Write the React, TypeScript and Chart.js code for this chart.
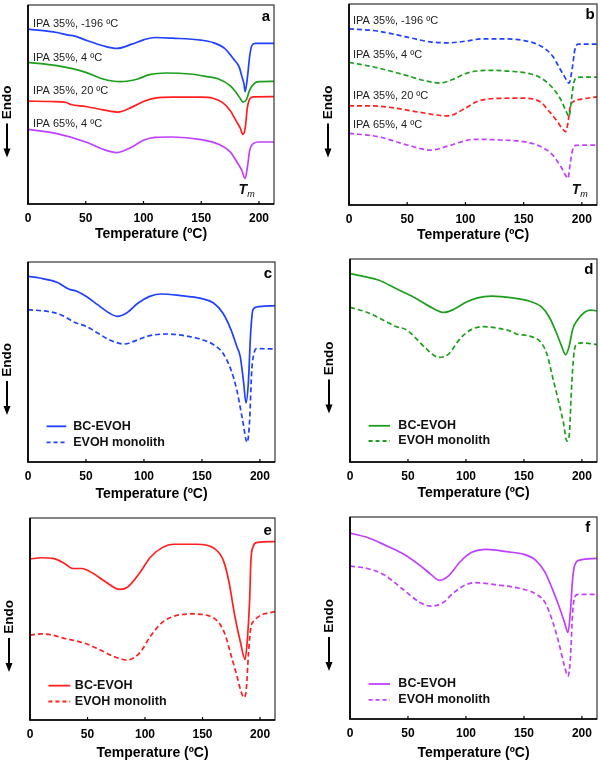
import React, { useEffect, useRef } from "react";
import { Chart, registerables } from "chart.js";
Chart.register(...registerables);

const FONT = "'Liberation Sans', Arial, sans-serif";
const BLUE = "#2140ff";
const GREEN = "#1c9f1c";
const RED = "#ff1f1f";
const MAGENTA = "#c040ff";

const xTickValues = [0, 50, 100, 150, 200];
const X_MAX = 213;
const Y_MAX = 600;
const X_TITLE = "Temperature (ºC)";
const Y_TITLE = "Endo";

// ---- Panel a (solid) ----
const aBlueT = [0, 25, 35, 40, 50, 65, 77, 90, 100, 110, 125, 150, 160, 170, 178, 183, 185, 187, 188, 190, 192, 194, 197, 213];
const aBlueH = [527, 517, 509, 507, 494, 477, 469, 482, 495, 502, 500, 494, 487, 470, 437, 412, 387, 362, 339, 382, 447, 479, 484, 484];
const aGreenT = [0, 25, 50, 65, 80, 95, 105, 120, 140, 155, 165, 175, 180, 184, 186, 189, 192, 196, 200, 213];
const aGreenH = [427, 417, 397, 377, 369, 377, 390, 395, 392, 384, 377, 357, 337, 317, 307, 314, 344, 364, 369, 370];
const aRedT = [0, 20, 33, 37, 50, 65, 78, 90, 100, 110, 125, 150, 160, 168, 175, 180, 184, 186, 188, 190, 192, 195, 213];
const aRedH = [310, 309, 306, 300, 294, 284, 277, 292, 309, 319, 322, 322, 319, 307, 282, 252, 227, 210, 227, 292, 317, 323, 324];
const aMagT = [0, 25, 50, 65, 77, 90, 100, 110, 125, 150, 165, 175, 180, 185, 188, 190, 192, 195, 200, 213];
const aMagH = [225, 212, 187, 165, 155, 172, 192, 201, 202, 194, 180, 157, 132, 102, 77, 112, 162, 182, 187, 187];

// ---- Panel b (dashed) ----
const bBlueT = [0, 25, 50, 70, 85, 100, 115, 130, 150, 165, 175, 180, 185, 189, 192, 194, 197, 213];
const bBlueH = [526, 519, 501, 487, 484, 489, 496, 496, 491, 474, 444, 414, 384, 364, 414, 464, 480, 480];
const bGreenT = [0, 25, 50, 65, 78, 90, 100, 110, 120, 140, 155, 165, 175, 182, 186, 189, 191, 193, 196, 213];
const bGreenH = [426, 409, 386, 371, 364, 376, 392, 400, 402, 399, 392, 379, 349, 314, 284, 264, 314, 364, 381, 382];
const bRedT = [0, 20, 40, 60, 85, 100, 110, 125, 150, 165, 172, 178, 183, 186, 188, 190, 193, 200, 213];
const bRedH = [296, 296, 289, 277, 266, 289, 309, 318, 319, 306, 279, 254, 229, 219, 244, 294, 309, 316, 323];
const bMagT = [0, 25, 50, 70, 85, 100, 110, 130, 150, 165, 175, 182, 186, 188, 190, 192, 195, 213];
const bMagH = [214, 204, 179, 164, 176, 192, 196, 194, 189, 174, 149, 114, 89, 79, 124, 164, 178, 179];

const seriesLabels = ["IPA 35%, -196 ºC", "IPA 35%, 4 ºC", "IPA 35%, 20 ºC", "IPA 65%, 4 ºC"];
const compareLabels = ["BC-EVOH", "EVOH monolith"];

// ---- Panel c (blue) ----
const cSolidT = [0, 10, 25, 35, 42, 50, 60, 70, 77, 85, 95, 105, 115, 130, 150, 160, 168, 175, 180, 183, 186, 188, 190, 192, 194, 197, 213];
const cSolidH = [557, 552, 539, 519, 512, 497, 472, 447, 437, 447, 477, 497, 504, 500, 490, 477, 447, 397, 347, 317, 237, 177, 237, 387, 457, 465, 469];
const cDashT = [0, 20, 30, 40, 50, 60, 70, 83, 95, 105, 120, 135, 150, 160, 168, 175, 180, 185, 189, 191, 193, 195, 197, 213];
const cDashH = [457, 450, 439, 419, 407, 387, 367, 354, 367, 379, 384, 379, 367, 352, 327, 277, 217, 127, 59, 117, 277, 327, 340, 339];

// ---- Panel d (green) ----
const dSolidT = [0, 10, 25, 40, 55, 70, 81, 90, 100, 110, 122, 140, 155, 165, 172, 178, 182, 186, 189, 192, 196, 202, 207, 213];
const dSolidH = [557, 550, 537, 512, 487, 457, 442, 452, 472, 485, 490, 485, 475, 459, 427, 382, 347, 317, 342, 392, 419, 442, 449, 447];
const dDashT = [0, 15, 30, 40, 48, 55, 65, 77, 85, 95, 105, 115, 130, 140, 143, 155, 165, 170, 175, 180, 184, 187, 189, 191, 193, 195, 200, 213];
const dDashH = [457, 442, 417, 400, 392, 372, 337, 309, 319, 365, 392, 400, 394, 385, 379, 372, 352, 317, 247, 177, 117, 62, 77, 217, 317, 347, 352, 347];

// ---- Panel e (red) ----
const eSolidT = [0, 10, 20, 30, 37, 45, 55, 65, 78, 85, 95, 105, 115, 125, 145, 160, 168, 173, 178, 183, 187, 189, 191, 192, 194, 197, 213];
const eSolidH = [478, 482, 480, 465, 450, 450, 435, 412, 388, 395, 435, 485, 512, 522, 522, 510, 475, 410, 310, 230, 180, 240, 360, 470, 515, 527, 530];
const eDashT = [0, 10, 20, 30, 40, 50, 60, 72, 84, 95, 105, 115, 125, 140, 155, 165, 170, 175, 180, 183, 186, 188, 190, 192, 195, 200, 213];
const eDashH = [252, 256, 252, 242, 235, 225, 210, 190, 178, 198, 250, 290, 308, 315, 310, 285, 250, 190, 130, 90, 67, 90, 200, 275, 295, 310, 322];

// ---- Panel f (magenta) ----
const fSolidT = [0, 15, 30, 45, 60, 70, 77, 85, 95, 105, 118, 135, 150, 160, 168, 175, 180, 185, 188, 190, 192, 194, 198, 213];
const fSolidH = [552, 539, 517, 492, 457, 429, 412, 425, 467, 495, 504, 497, 489, 472, 437, 382, 337, 287, 257, 317, 417, 459, 472, 477];
const fDashT = [0, 15, 30, 45, 60, 70, 80, 90, 100, 108, 125, 145, 160, 168, 175, 180, 185, 188, 190, 192, 194, 197, 213];
const fDashH = [454, 447, 427, 387, 347, 335, 345, 377, 399, 405, 399, 389, 372, 347, 287, 227, 157, 127, 177, 317, 364, 370, 370];

type Series = { t: number[]; h: number[]; color: string; dashed: boolean };
type Spec = {
  key: string;
  left: number; top: number; width: number; height: number;
  padL: number; padR: number; padT: number; xh: number;
  titleOffset: number;
  letter: string; letterAt: [number, number];
  series: Series[];
  labels?: { text: string; at: [number, number] }[];
  tm?: [number, number];
  legend?: { x0: number; x1: number; xt: number; y1: number; y2: number; color: string };
};

const pts = (t: number[], h: number[]) => t.map((x, i) => ({ x, y: h[i] }));

const specs: Spec[] = [
  {
    key: "a", left: 0, top: 0, width: 300, height: 250, padL: 28, padR: 26, padT: 5, xh: 46, titleOffset: 30,
    letter: "a", letterAt: [206, 565],
    series: [
      { t: aBlueT, h: aBlueH, color: BLUE, dashed: false },
      { t: aGreenT, h: aGreenH, color: GREEN, dashed: false },
      { t: aRedT, h: aRedH, color: RED, dashed: false },
      { t: aMagT, h: aMagH, color: MAGENTA, dashed: false },
    ],
    labels: [
      { text: seriesLabels[0], at: [4.3, 544] },
      { text: seriesLabels[1], at: [4.3, 440] },
      { text: seriesLabels[2], at: [4.3, 342] },
      { text: seriesLabels[3], at: [4.3, 242] },
    ],
    tm: [188, 42],
  },
  {
    key: "b", left: 300, top: 0, width: 300, height: 250, padL: 49, padR: 3, padT: 4, xh: 45, titleOffset: 30,
    letter: "b", letterAt: [207, 569],
    series: [
      { t: bBlueT, h: bBlueH, color: BLUE, dashed: true },
      { t: bGreenT, h: bGreenH, color: GREEN, dashed: true },
      { t: bRedT, h: bRedH, color: RED, dashed: true },
      { t: bMagT, h: bMagH, color: MAGENTA, dashed: true },
    ],
    labels: [
      { text: seriesLabels[0], at: [3.4, 549] },
      { text: seriesLabels[1], at: [3.4, 449] },
      { text: seriesLabels[2], at: [3.4, 324] },
      { text: seriesLabels[3], at: [3.4, 239] },
    ],
    tm: [197, 44],
  },
  {
    key: "c", left: 0, top: 250, width: 300, height: 255, padL: 28, padR: 25, padT: 12, xh: 43, titleOffset: 32,
    letter: "c", letterAt: [207, 565],
    series: [
      { t: cSolidT, h: cSolidH, color: BLUE, dashed: false },
      { t: cDashT, h: cDashH, color: BLUE, dashed: true },
    ],
    legend: { x0: 16, x1: 33, xt: 39, y1: 107, y2: 59, color: BLUE },
  },
  {
    key: "d", left: 300, top: 250, width: 300, height: 255, padL: 50, padR: 3, padT: 9, xh: 43, titleOffset: 31,
    letter: "d", letterAt: [206, 569],
    series: [
      { t: dSolidT, h: dSolidH, color: GREEN, dashed: false },
      { t: dDashT, h: dDashH, color: GREEN, dashed: true },
    ],
    legend: { x0: 16, x1: 34.5, xt: 41.7, y1: 107, y2: 62, color: GREEN },
  },
  {
    key: "e", left: 0, top: 505, width: 300, height: 257, padL: 30, padR: 25, padT: 13, xh: 42, titleOffset: 33,
    letter: "e", letterAt: [206.7, 563],
    series: [
      { t: eSolidT, h: eSolidH, color: RED, dashed: false },
      { t: eDashT, h: eDashH, color: RED, dashed: true },
    ],
    legend: { x0: 16, x1: 35, xt: 39, y1: 102, y2: 55, color: RED },
  },
  {
    key: "f", left: 300, top: 505, width: 300, height: 257, padL: 50, padR: 3, padT: 12, xh: 43, titleOffset: 34,
    letter: "f", letterAt: [205, 567],
    series: [
      { t: fSolidT, h: fSolidH, color: MAGENTA, dashed: false },
      { t: fDashT, h: fDashH, color: MAGENTA, dashed: true },
    ],
    legend: { x0: 16, x1: 34.5, xt: 41.7, y1: 104, y2: 57, color: MAGENTA },
  },
];

function makeOverlay(spec: Spec) {
  return {
    id: "overlay" + spec.key,
    afterDraw(chart: any) {
      const { ctx, chartArea: ca, scales } = chart;
      const xs = scales.x;
      const ys = scales.y;
      const px = (v: number) => xs.getPixelForValue(v);
      const py = (v: number) => ys.getPixelForValue(v);
      ctx.save();
      // frame
      ctx.strokeStyle = "#333";
      ctx.lineWidth = 1.2;
      ctx.strokeRect(ca.left, ca.top, ca.right - ca.left, ca.bottom - ca.top);
      ctx.strokeStyle = "#000";
      ctx.lineWidth = 1.7;
      ctx.beginPath();
      ctx.moveTo(ca.left, ca.top);
      ctx.lineTo(ca.left, ca.bottom);
      ctx.lineTo(ca.right, ca.bottom);
      ctx.stroke();
      // inward ticks
      ctx.lineWidth = 1.2;
      for (const v of xTickValues) {
        const x = px(v);
        ctx.beginPath();
        ctx.moveTo(x, ca.bottom);
        ctx.lineTo(x, ca.bottom - 3);
        ctx.stroke();
      }
      // Endo + arrow
      const mid = (ca.top + ca.bottom) / 2;
      const ex = ca.left - 21;
      ctx.save();
      ctx.translate(ex, mid - 2);
      ctx.rotate(-Math.PI / 2);
      ctx.fillStyle = "#000";
      ctx.font = `bold 13.5px ${FONT}`;
      ctx.textAlign = "center";
      ctx.textBaseline = "middle";
      ctx.fillText(Y_TITLE, 0, 0);
      ctx.restore();
      ctx.strokeStyle = "#000";
      ctx.lineWidth = 2;
      ctx.beginPath();
      ctx.moveTo(ex, mid + 19);
      ctx.lineTo(ex, mid + 46);
      ctx.stroke();
      ctx.fillStyle = "#000";
      ctx.beginPath();
      ctx.moveTo(ex - 3.5, mid + 44);
      ctx.lineTo(ex + 3.5, mid + 44);
      ctx.lineTo(ex, mid + 53);
      ctx.closePath();
      ctx.fill();
      // panel letter
      ctx.font = `bold 15px ${FONT}`;
      ctx.textAlign = "center";
      ctx.textBaseline = "middle";
      ctx.fillText(spec.letter, px(spec.letterAt[0]), py(spec.letterAt[1]));
      // series labels
      if (spec.labels) {
        ctx.font = `11px ${FONT}`;
        ctx.fillStyle = "#222";
        ctx.textAlign = "left";
        for (const l of spec.labels) ctx.fillText(l.text, px(l.at[0]), py(l.at[1]));
      }
      // Tm
      if (spec.tm) {
        const tx = px(spec.tm[0]);
        const ty = py(spec.tm[1]);
        ctx.fillStyle = "#111";
        ctx.font = `italic bold 14px ${FONT}`;
        ctx.textAlign = "right";
        ctx.fillText("T", tx + 2, ty);
        ctx.font = `italic 9px ${FONT}`;
        ctx.textAlign = "left";
        ctx.fillText("m", tx + 2, ty + 4);
      }
      // legend
      if (spec.legend) {
        const L = spec.legend;
        ctx.strokeStyle = L.color;
        ctx.lineWidth = 1.8;
        ctx.beginPath();
        ctx.moveTo(px(L.x0), py(L.y1));
        ctx.lineTo(px(L.x1), py(L.y1));
        ctx.stroke();
        ctx.setLineDash([4, 3]);
        ctx.beginPath();
        ctx.moveTo(px(L.x0), py(L.y2));
        ctx.lineTo(px(L.x1), py(L.y2));
        ctx.stroke();
        ctx.setLineDash([]);
        ctx.fillStyle = "#111";
        ctx.font = `bold 12.5px ${FONT}`;
        ctx.textAlign = "left";
        ctx.textBaseline = "middle";
        ctx.fillText(compareLabels[0], px(L.xt), py(L.y1));
        ctx.fillText(compareLabels[1], px(L.xt), py(L.y2));
      }
      ctx.restore();
    },
  };
}

function Panel({ spec }: { spec: Spec }) {
  const ref = useRef<HTMLCanvasElement | null>(null);
  useEffect(() => {
    if (!ref.current) return;
    const titleLH = 14 * 1.2;
    const chart = new Chart(ref.current, {
      type: "line",
      data: {
        datasets: spec.series.map((s, i) => ({
          label: spec.key + i,
          data: pts(s.t, s.h),
          borderColor: s.color,
          backgroundColor: s.color,
          borderWidth: 1.7,
          borderDash: s.dashed ? [5, 3] : [],
          pointRadius: 0,
          fill: false,
          cubicInterpolationMode: "monotone" as const,
        })),
      },
      options: {
        animation: false,
        responsive: false,
        maintainAspectRatio: false,
        layout: { padding: { left: spec.padL, right: spec.padR, top: spec.padT, bottom: 0 } },
        plugins: { legend: { display: false }, tooltip: { enabled: false } },
        scales: {
          x: {
            type: "linear",
            min: 0,
            max: X_MAX,
            afterFit: (s: any) => { s.height = spec.xh; },
            afterBuildTicks: (s: any) => { s.ticks = xTickValues.map((v) => ({ value: v })); },
            ticks: {
              font: { family: FONT, size: 12, weight: "bold" },
              color: "#000",
              padding: 7,
              maxRotation: 0,
              autoSkip: false,
            },
            grid: { display: false, drawTicks: false },
            border: { display: false },
            title: {
              display: true,
              text: X_TITLE,
              color: "#000",
              font: { family: FONT, size: 14, weight: "bold" },
              padding: { top: 0, bottom: spec.xh - spec.titleOffset - titleLH / 2 },
            },
          },
          y: { display: false, min: 0, max: Y_MAX },
        },
      },
      plugins: [makeOverlay(spec)],
    } as any);
    return () => chart.destroy();
  }, [spec]);
  return (
    <canvas
      ref={ref}
      width={spec.width}
      height={spec.height}
      style={{ position: "absolute", left: spec.left, top: spec.top, width: spec.width, height: spec.height }}
    />
  );
}

export default function App() {
  return (
    <div style={{ position: "absolute", left: 0, top: 0, width: 600, height: 762, background: "#fff" }}>
      {specs.map((s) => (
        <Panel key={s.key} spec={s} />
      ))}
    </div>
  );
}
